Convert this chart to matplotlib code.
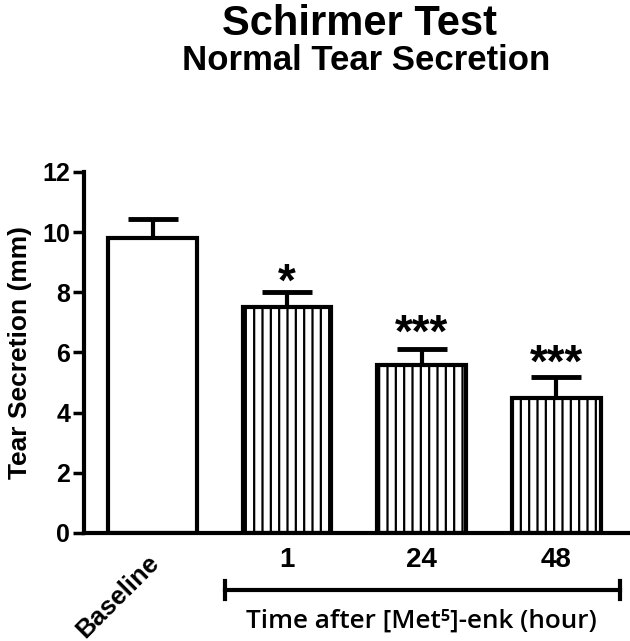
import matplotlib
matplotlib.use("Agg")
import matplotlib.pyplot as plt

categories = ["Baseline", "1", "24", "48"]
means = [9.8, 7.5, 5.6, 4.5]
sems = [0.63, 0.5, 0.5, 0.7]
stars = ["", "*", "***", "***"]
star_y = [0, 7.89, 6.19, 5.2]
hatches = ["", "||", "||", "||"]
group_label = "Time after [Met\u2075]-enk (hour)"

plt.rcParams['font.family'] = ['Liberation Sans', 'DejaVu Sans']
plt.rcParams['hatch.linewidth'] = 1.6
plt.rcParams['hatch.color'] = 'black'

fig = plt.figure(figsize=(6.3, 6.41), dpi=100)
ax = fig.add_axes([0.1333, 0.1685, 0.8637, 0.5632])

x = list(range(len(categories)))
for i in x:
    ax.bar(i, means[i], width=0.66, color='white', edgecolor='black',
           linewidth=3.0, hatch=hatches[i], zorder=2)
    ax.errorbar(i, means[i], yerr=[[0], [sems[i]]], fmt='none', ecolor='black',
                elinewidth=3.0, capsize=18, capthick=3.5, zorder=1)
    if stars[i]:
        ax.text(i, star_y[i], stars[i], ha='center', va='baseline',
                fontsize=33, fontweight='bold')

ax.set_xlim(-0.51, 3.535)
ax.set_ylim(0, 12)
ax.set_yticks([0, 2, 4, 6, 8, 10, 12])
ax.tick_params(axis='y', length=8, width=2.5, labelsize=18, pad=2)
for lab in ax.get_yticklabels():
    lab.set_fontweight('bold')
ax.set_xticks([])
for s in ['top', 'right']:
    ax.spines[s].set_visible(False)
for s in ['left', 'bottom']:
    ax.spines[s].set_linewidth(3)
ax.set_ylabel("Tear Secretion (mm)", fontsize=19, fontweight='bold', labelpad=7)

trans = ax.get_xaxis_transform()
ax.text(-0.04, -0.048, categories[0], transform=trans, rotation=45,
        rotation_mode='anchor', ha='right', va='top', fontsize=18.5, fontweight='bold')
for i in x[1:]:
    ax.text(i, -0.075, categories[i], transform=trans, ha='center', va='center',
            fontsize=20, fontweight='bold')

yb = -0.158
ax.plot([0.54, 3.476], [yb, yb], transform=trans, color='black', lw=3, clip_on=False)
for xe in [0.54, 3.476]:
    ax.plot([xe, xe], [yb - 0.026, yb + 0.026], transform=trans, color='black',
            lw=3, clip_on=False)
ax.text((0.52 + 3.476) / 2, -0.245, group_label, transform=trans, ha='center',
        va='center', fontsize=18.8, fontweight='semibold', family=['Open Sans', 'DejaVu Sans'])

fig.text(0.571, 0.963, "Schirmer Test", ha='center', va='center', fontsize=30, fontweight='bold')
fig.text(0.581, 0.906, "Normal Tear Secretion", ha='center', va='center', fontsize=25, fontweight='bold')

fig.savefig("out.png", dpi=100)
